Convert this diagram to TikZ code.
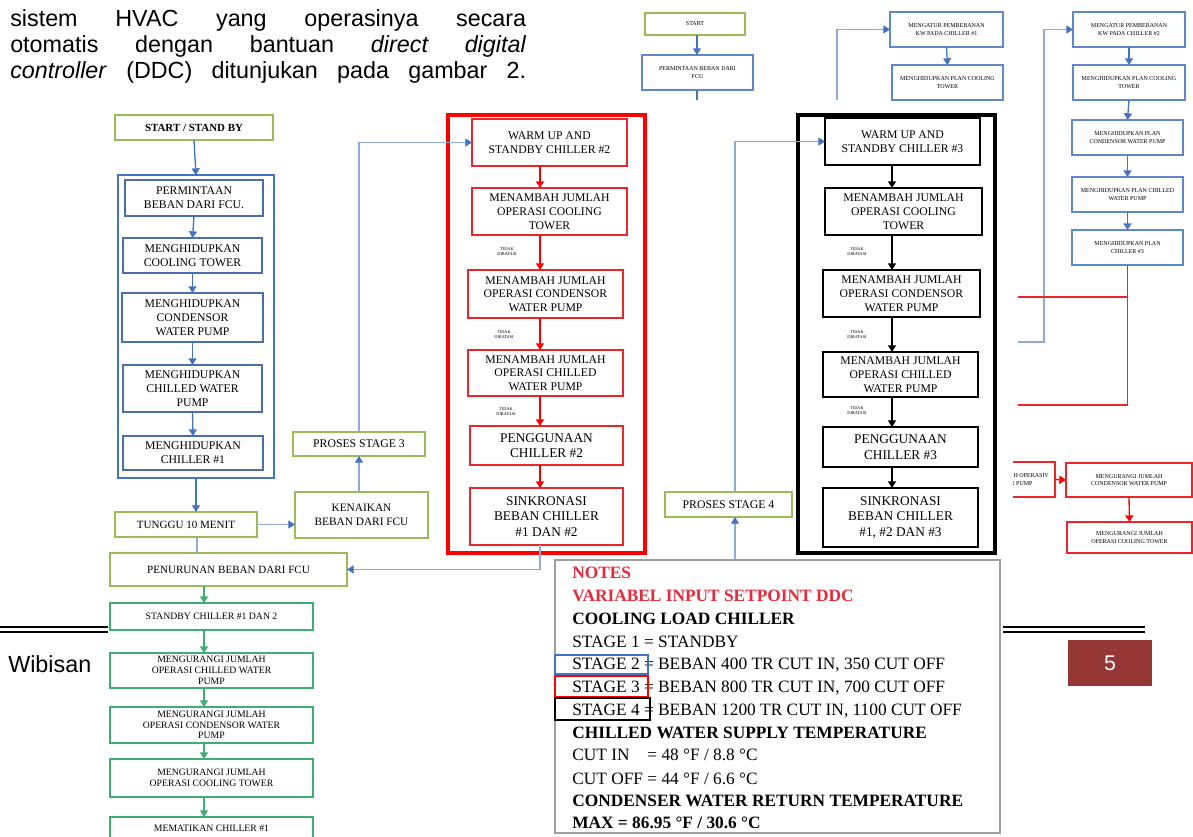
\documentclass[tikz,border=0pt]{standalone}
\usepackage{fontspec}
\setmainfont{Liberation Serif}
\newfontfamily\arialf{Liberation Sans}
\usetikzlibrary{arrows.meta,calc}
\definecolor{blueF}{HTML}{4472C4}
\definecolor{blueB}{HTML}{4A6DB3}
\definecolor{lineB}{HTML}{8FAAD6}
\definecolor{oliveG}{HTML}{9BBB59}
\definecolor{tealG}{HTML}{3FAE72}
\definecolor{redF}{HTML}{FF0000}
\definecolor{redB}{HTML}{E8262B}
\definecolor{notered}{HTML}{E8293A}
\definecolor{brownF}{HTML}{953735}
\newcommand\mybox[7]{\node[#6, minimum width={(#4-#2)*0.75pt}, minimum height={(#5-#3)*0.75pt}] (#1) at ({(#2+#4)/2},{(#3+#5)/2}) {#7};}
\begin{document}
\begin{tikzpicture}[x=0.75pt,y=-0.75pt,
 bx/.style={draw, fill=white, align=center, inner sep=0pt, outer sep=0pt, font=\fontsize{8.8}{10.3}\selectfont},
 bluebx/.style={bx, draw=blueB, line width=1.5pt},
 olivebx/.style={bx, draw=oliveG, line width=1.4pt},
 redbx/.style={bx, draw=redB, line width=1.5pt},
 blackbx/.style={bx, draw=black, line width=1.6pt},
 greenbx/.style={bx, draw=tealG, line width=1.3pt, font=\fontsize{7.3}{8.1}\selectfont},
 tinybx/.style={bx, draw=blueF!85, line width=0.8pt, font=\fontsize{4.5}{5.5}\selectfont},
 tinyred/.style={bx, draw=redB, line width=1pt, font=\fontsize{4.5}{5.5}\selectfont},
 myframe/.style={draw, line width=2.2pt, inner sep=0pt, outer sep=0pt},
 bigtxt/.style={font=\fontsize{10}{11.5}\selectfont},
 lbl/.style={font=\fontsize{3.2}{3.6}\selectfont, align=center, inner sep=0pt},
 blarr/.style={draw=blueF, line width=1pt, -{Triangle[width=6pt,length=5pt]}},
 larr/.style={draw=lineB, line width=0.9pt, -{Triangle[width=6pt,length=5pt,color=blueF]}},
 lline/.style={draw=lineB, line width=0.9pt},
 rarr/.style={draw=redF, line width=1pt, -{Triangle[width=6pt,length=5pt]}},
 karr/.style={draw=black, line width=1pt, -{Triangle[width=6pt,length=5pt]}},
 garr/.style={draw=tealG, line width=1pt, -{Triangle[width=6pt,length=5pt]}},
 note/.style={anchor=base west, inner sep=0pt, font=\fontsize{13}{15}\selectfont},
 notebf/.style={note, font=\fontsize{13}{15}\selectfont\bfseries},
 toptxt/.style={anchor=base west, inner sep=0pt, font=\arialf\fontsize{17.5}{20}\selectfont}
]
\useasboundingbox (0,0) rectangle (1193,836);
\clip (0,0) rectangle (1193,836);

% ---------------- top paragraph ----------------
\node[toptxt] (t1) at (10,26) {\makebox[387pt][s]{sistem HVAC yang operasinya secara}};
\node[toptxt] (t2) at (10,52) {\makebox[387pt][s]{otomatis dengan bantuan \textit{direct digital}}};
\node[toptxt] (t3) at (10,78) {\makebox[387pt][s]{\textit{controller} (DDC) ditunjukan pada gambar 2.}};

% ---------------- top-right snippet ----------------
\coordinate (tx) at (697,0);
\mybox{st}{645}{13}{745}{35}{tinybx, draw=oliveG}{START}
\mybox{pm}{642}{55}{753}{90}{tinybx}{PERMINTAAN BEBAN DARI\\FCU}
\coordinate (pmend) at (697,100);
\draw[blarr] (st.south -| tx) -- (pm.north -| tx);
\draw[draw=blueF, line width=1pt] (pm.south -| tx) -- (pmend);

\mybox{mb1}{890}{12}{1003}{47}{tinybx}{MENGATUR PEMBEBANAN\\KW PADA CHILLER \#1}
\mybox{mb2}{892}{65}{1003}{100}{tinybx}{MENGHIDUPKAN PLAN COOLING\\TOWER}
\coordinate (ml) at (837,100);
\draw[larr] (ml) |- (mb1.west);
\draw[blarr] (mb1.south) -- (mb2.north);

\mybox{rb1}{1073}{12}{1185}{47}{tinybx}{MENGATUR PEMBEBANAN\\KW PADA CHILLER \#2}
\mybox{rb2}{1073}{65}{1185}{100}{tinybx}{MENGHIDUPKAN PLAN COOLING\\TOWER}
\mybox{rA}{1072}{120}{1183}{155}{tinybx}{MENGHIDUPKAN PLAN\\CONDENSOR WATER PUMP}
\mybox{rB}{1072}{177}{1183}{212}{tinybx}{MENGHIDUPKAN PLAN CHILLED\\WATER PUMP}
\mybox{rC}{1072}{230}{1183}{265}{tinybx}{MENGHIDUPKAN PLAN\\CHILLER \#3}
\draw[blarr] (rb1.south) -- (rb2.north);
\draw[blarr] (rb2.south) -- (rA.north);
\draw[blarr] (rA.south) -- (rB.north);
\draw[blarr] (rB.south) -- (rC.north);
\coordinate (bl) at (1018,342);
\coordinate (bc) at (1044,342);
\draw[larr] (bl) -- (bc) |- (rb1.west);
\coordinate (rl1) at (1018,297);
\coordinate (rl2) at (1018,405);
\draw[draw=redB, line width=1pt] (rl1) -- (rl1 -| rC.south);
\draw[draw=redB, line width=1pt] (rC.south) |- (rl2);

\begin{scope}
\clip (1013,455) rectangle (1060,505);
\mybox{rp}{945}{462}{1055}{497}{tinyred}{MENGURANGI JUMLAH OPERASIV\\CHILLED WATER PUMP}
\end{scope}
\mybox{rm1}{1066}{463}{1192}{497}{tinyred}{MENGURANGI JUMLAH\\CONDENSOR WATER PUMP}
\mybox{rm2}{1067}{522}{1192}{553}{tinyred}{MENGURANGI JUMLAH\\OPERASI COOLING TOWER}
\draw[rarr] (rp.east) -- (rm1.west);
\draw[rarr] (rm1.south) -- (rm2.north);

% ---------------- left column ----------------
\mybox{ss}{115}{115}{273}{140}{olivebx, font=\fontsize{8.2}{10}\selectfont\bfseries}{START / STAND BY}
\mybox{bfr}{118}{175}{274}{478}{myframe, draw=blueF}{}
\mybox{b1}{125}{180}{263}{216}{bluebx}{PERMINTAAN\\BEBAN DARI FCU.}
\mybox{b2}{123}{238}{262}{273}{bluebx}{MENGHIDUPKAN\\COOLING TOWER}
\mybox{b3}{122}{293}{263}{342}{bluebx}{MENGHIDUPKAN\\CONDENSOR\\WATER PUMP}
\mybox{b4}{123}{365}{262}{412}{bluebx}{MENGHIDUPKAN\\CHILLED WATER\\PUMP}
\mybox{b5}{123}{436}{263}{470}{bluebx}{MENGHIDUPKAN\\CHILLER \#1}
\draw[blarr] (ss.south) -- (bfr.north);
\draw[blarr] (b1.south) -- (b2.north);
\draw[blarr] (b2.south) -- (b3.north);
\draw[blarr] (b3.south) -- (b4.north);
\draw[blarr] (b4.south) -- (b5.north);

\mybox{tg}{115}{512}{257}{537}{olivebx, font=\fontsize{8.3}{10}\selectfont}{TUNGGU 10 MENIT}
\mybox{kn}{295}{492}{428}{538}{olivebx, font=\fontsize{8.5}{10.3}\selectfont}{KENAIKAN\\BEBAN DARI FCU}
\mybox{ps3}{293}{432}{425}{456}{olivebx}{PROSES STAGE 3}
\draw[blarr] (bfr.south) -- (bfr.south |- tg.north);
\draw[larr] (tg.east) -- (tg.east -| kn.west);
\draw[larr] (ps3.south |- kn.north) -- (ps3.south);

% ---------------- red column ----------------
\mybox{rfr}{448}{115}{645}{553}{myframe, draw=redF, line width=2.6pt}{}
\mybox{r1}{472}{119}{627}{166}{redbx}{WARM UP AND\\STANDBY CHILLER \#2}
\mybox{r2}{472}{188}{627}{235}{redbx}{MENAMBAH JUMLAH\\OPERASI COOLING\\TOWER}
\mybox{r3}{468}{270}{623}{318}{redbx}{MENAMBAH JUMLAH\\OPERASI CONDENSOR\\WATER PUMP}
\mybox{r4}{468}{350}{623}{396}{redbx}{MENAMBAH JUMLAH\\OPERASI CHILLED\\WATER PUMP}
\mybox{r5}{470}{426}{623}{465}{redbx, bigtxt}{PENGGUNAAN\\CHILLER \#2}
\mybox{r6}{470}{488}{623}{545}{redbx, bigtxt}{SINKRONASI\\BEBAN CHILLER\\\#1 DAN \#2}
\coordinate (rx) at (540,0);
\draw[rarr] (r1.south -| rx) -- (r2.north -| rx);
\draw[rarr] (r2.south -| rx) -- (r3.north -| rx);
\draw[rarr] (r3.south -| rx) -- (r4.north -| rx);
\draw[rarr] (r4.south -| rx) -- (r5.north -| rx);
\draw[rarr] (r5.south -| rx) -- (r6.north -| rx);
\node[lbl] (rl_a) at (507,252) {TIDAK\\DIBATASI};
\node[lbl] (rl_b) at (504,335) {TIDAK\\DIBATASI};
\node[lbl] (rl_c) at (506,412) {TIDAK\\DIBATASI};
\draw[larr] (ps3.north) |- (r1.west);

% ---------------- black column ----------------
\mybox{kfr}{798}{115}{995}{553}{myframe, draw=black, line width=2.8pt}{}
\mybox{k1}{825}{118}{980}{165}{blackbx}{WARM UP AND\\STANDBY CHILLER \#3}
\mybox{k2}{825}{188}{982}{235}{blackbx}{MENAMBAH JUMLAH\\OPERASI COOLING\\TOWER}
\mybox{k3}{823}{270}{980}{317}{blackbx}{MENAMBAH JUMLAH\\OPERASI CONDENSOR\\WATER PUMP}
\mybox{k4}{823}{352}{978}{397}{blackbx}{MENAMBAH JUMLAH\\OPERASI CHILLED\\WATER PUMP}
\mybox{k5}{823}{427}{978}{467}{blackbx, bigtxt}{PENGGUNAAN\\CHILLER \#3}
\mybox{k6}{823}{488}{978}{547}{blackbx, bigtxt}{SINKRONASI\\BEBAN CHILLER\\\#1, \#2 DAN \#3}
\coordinate (kx) at (892,0);
\draw[karr] (k1.south -| kx) -- (k2.north -| kx);
\draw[karr] (k2.south -| kx) -- (k3.north -| kx);
\draw[karr] (k3.south -| kx) -- (k4.north -| kx);
\draw[karr] (k4.south -| kx) -- (k5.north -| kx);
\draw[karr] (k5.south -| kx) -- (k6.north -| kx);
\node[lbl] (kl_a) at (857,252) {TIDAK\\DIBATASI};
\node[lbl] (kl_b) at (857,335) {TIDAK\\DIBATASI};
\node[lbl] (kl_c) at (857,411) {TIDAK\\DIBATASI};

\mybox{ps4}{665}{492}{792}{517}{olivebx}{PROSES STAGE 4}
\coordinate (p4in) at (735,560);
\draw[larr] (p4in) -- (p4in |- ps4.south);
\draw[larr] (ps4.north -| p4in) |- (k1.west);

% ---------------- lower left ----------------
\mybox{pn}{110}{553}{347}{586}{olivebx, font=\fontsize{8.3}{10}\selectfont}{PENURUNAN BEBAN DARI FCU}
\coordinate (tgx) at (197,0);
\draw[lline] (tg.south -| tgx) -- (pn.north -| tgx);
\draw[larr] (r6.south -| rx) |- (pn.east);
\mybox{g1}{110}{603}{313}{630}{greenbx}{STANDBY CHILLER \#1 DAN 2}
\mybox{g2}{110}{653}{313}{688}{greenbx}{MENGURANGI JUMLAH\\OPERASI CHILLED WATER\\PUMP}
\mybox{g3}{110}{707}{313}{743}{greenbx}{MENGURANGI JUMLAH\\OPERASI CONDENSOR WATER\\PUMP}
\mybox{g4}{110}{759}{313}{797}{greenbx}{MENGURANGI JUMLAH\\OPERASI COOLING TOWER}
\mybox{g5}{110}{817}{313}{840}{greenbx}{MEMATIKAN CHILLER \#1}
\coordinate (gx) at (204,0);
\draw[garr] (pn.south -| gx) -- (g1.north -| gx);
\draw[garr] (g1.south -| gx) -- (g2.north -| gx);
\draw[garr] (g2.south -| gx) -- (g3.north -| gx);
\draw[garr] (g3.south -| gx) -- (g4.north -| gx);
\draw[garr] (g4.south -| gx) -- (g5.north -| gx);

% ---------------- notes ----------------
\mybox{nb}{555}{560}{1000}{833}{draw=gray!75, line width=1pt, inner sep=0pt}{}
\node[notebf, text=notered] (n1) at (572,578) {NOTES};
\node[notebf, text=notered] (n2) at (572,601) {VARIABEL INPUT SETPOINT DDC};
\node[notebf] (n3) at (572,624) {COOLING LOAD CHILLER};
\node[note] (n4) at (572,647) {STAGE 1 = STANDBY};
\node[note] (n5) at (572,669) {STAGE 2 = BEBAN 400 TR CUT IN, 350 CUT OFF};
\node[note] (n6) at (572,692) {STAGE 3 = BEBAN 800 TR CUT IN, 700 CUT OFF};
\node[note] (n7) at (572,715) {STAGE 4 = BEBAN 1200 TR CUT IN, 1100 CUT OFF};
\node[notebf] (n8) at (572,738) {CHILLED WATER SUPPLY TEMPERATURE};
\node[note] (n9) at (572,760) {\rlap{CUT IN}\phantom{CUT OFF} = 48 °F / 8.8 °C};
\node[note] (n10) at (572,784) {CUT OFF = 44 °F / 6.6 °C};
\node[notebf] (n11) at (572,806) {CONDENSER WATER RETURN TEMPERATURE};
\node[notebf] (n12) at (572,828) {MAX = 86.95 °F / 30.6 °C};
\mybox{sr2}{555}{655}{648}{674}{draw=blueF, line width=1.2pt}{}
\mybox{sr3}{555}{676}{648}{697}{draw=redF, line width=1.2pt}{}
\mybox{sr4}{555}{698}{650}{720}{draw=black, line width=1.2pt}{}

% ---------------- footer ----------------
\coordinate (fl1) at (0,627); \coordinate (fl1e) at (108,627);
\coordinate (fl2) at (0,632); \coordinate (fl2e) at (108,632);
\coordinate (fr1) at (1003,627); \coordinate (fr1e) at (1145,627);
\coordinate (fr2) at (1003,632); \coordinate (fr2e) at (1145,632);
\draw[line width=1.4pt] (fl1) -- (fl1e) (fl2) -- (fl2e) (fr1) -- (fr1e) (fr2) -- (fr2e);
\node[toptxt] (wib) at (8,672) {Wibisan};
\mybox{pg}{1068}{640}{1152}{686}{fill=brownF, draw=none, text=white, font=\arialf\fontsize{16}{19}\selectfont}{5}
\end{tikzpicture}
\end{document}
